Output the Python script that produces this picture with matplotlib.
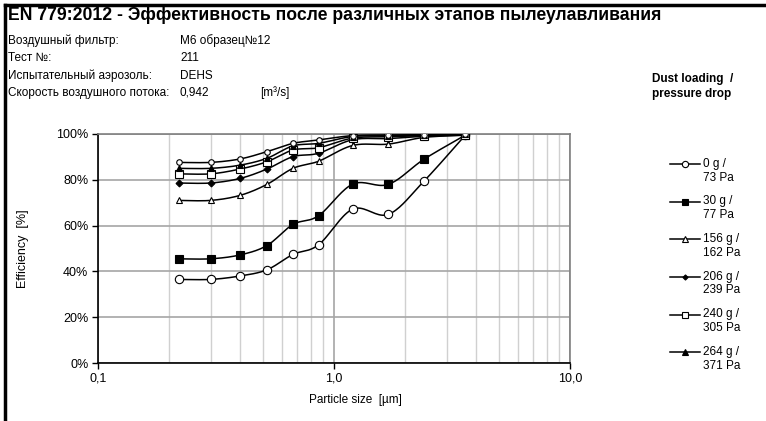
import numpy as np
import matplotlib
matplotlib.use("Agg")
import matplotlib.pyplot as plt
from matplotlib.lines import Line2D
from matplotlib.ticker import FixedLocator, FuncFormatter, NullFormatter

plt.rcParams['font.family'] = ['Liberation Sans', 'DejaVu Sans']

# particle sizes [um]
sizes = [0.22, 0.30, 0.40, 0.52, 0.67, 0.86, 1.20, 1.70, 2.40, 3.60]

# efficiency [%] per dust loading step
eff_0 = [36.5, 36.5, 38.0, 40.7, 47.4, 51.6, 67.2, 64.9, 79.3, 99.5]
eff_30 = [45.5, 45.5, 47.2, 51.3, 60.5, 64.3, 78.1, 78.0, 88.9, 99.5]
eff_156 = [71.0, 71.0, 73.2, 78.0, 85.0, 88.1, 95.0, 95.6, 98.5, 99.5]
eff_206 = [78.6, 78.6, 80.6, 84.7, 90.1, 91.6, 97.5, 98.0, 99.0, 99.5]
eff_240 = [82.6, 82.6, 84.7, 87.9, 93.0, 94.0, 98.2, 98.8, 99.3, 99.6]
eff_264 = [85.0, 85.0, 86.4, 89.4, 94.8, 95.9, 98.9, 99.2, 99.5, 99.8]
eff_last = [87.6, 87.6, 89.1, 92.3, 95.9, 97.4, 99.3, 99.6, 99.7, 99.8]

labels = ["0 g /\n73 Pa", "30 g /\n77 Pa", "156 g /\n162 Pa",
          "206 g /\n239 Pa", "240 g /\n305 Pa", "264 g /\n371 Pa", None]

info_keys = ["Воздушный фильтр:", "Тест №:", "Испытательный аэрозоль:",
             "Скорость воздушного потока:"]
info_vals = ["M6 образец№12", "211", "DEHS", "0,942"]

title = "EN 779:2012 - Эффективность после различных этапов пылеулавливания"


def smooth(x, y, n=20):
    # Excel-like smoothed line (Catmull-Rom through the points, log x)
    lx = np.log10(x)
    y = np.asarray(y, float)
    px = np.concatenate([[lx[0]], lx, [lx[-1]]])
    py = np.concatenate([[y[0]], y, [y[-1]]])
    xs, ys = [], []
    t = np.linspace(0, 1, n)
    for i in range(1, len(px) - 2):
        for P, out in ((px, xs), (py, ys)):
            p0, p1, p2, p3 = P[i - 1], P[i], P[i + 1], P[i + 2]
            out.extend(0.5 * (2 * p1 + (-p0 + p2) * t
                              + (2 * p0 - 5 * p1 + 4 * p2 - p3) * t ** 2
                              + (-p0 + 3 * p1 - 3 * p2 + p3) * t ** 3))
    return 10 ** np.array(xs), np.array(ys)


fig = plt.figure(figsize=(7.66, 4.21), dpi=100)
ax = fig.add_axes([98 / 766, 1 - 363 / 421, 472 / 766, 229 / 421])

series = [eff_0, eff_30, eff_156, eff_206, eff_240, eff_264, eff_last]
styles = [
    dict(marker='o', mfc='white', ms=6),
    dict(marker='s', mfc='black', ms=6),
    dict(marker='^', mfc='white', ms=5),
    dict(marker='D', mfc='black', ms=3.5),
    dict(marker='s', mfc='white', ms=6),
    dict(marker='^', mfc='black', ms=5),
    dict(marker='o', mfc='white', ms=4),
]

handles = []
for vals, st, lab in zip(series, styles, labels):
    sx, sy = smooth(sizes, vals)
    ax.plot(sx, sy, color='black', lw=1.1, zorder=3)
    ax.plot(sizes, vals, ls='none', marker=st['marker'], mfc=st['mfc'],
            mec='black', mew=0.8, ms=st['ms'], zorder=4)
    if lab is not None:
        handles.append(Line2D([], [], color='black', lw=1.1, marker=st['marker'],
                              mfc=st['mfc'], mec='black', mew=0.8,
                              ms=st['ms'] * 0.75, label="\n" + lab))

ax.set_xscale('log')
ax.set_xlim(0.1, 10)
ax.set_ylim(0, 100)
ax.xaxis.set_major_locator(FixedLocator([0.1, 1, 10]))
ax.xaxis.set_major_formatter(FuncFormatter(lambda v, p: f"{v:.1f}".replace('.', ',')))
ax.xaxis.set_minor_locator(FixedLocator([k * d for d in (0.1, 1) for k in range(2, 10)]))
ax.xaxis.set_minor_formatter(NullFormatter())
ax.set_yticks(range(0, 101, 20))
ax.yaxis.set_major_formatter(FuncFormatter(lambda v, p: f"{int(v)}%"))

ax.grid(axis='y', which='major', color='#a6a6a6', lw=1.2)
ax.grid(axis='x', which='major', color='#a6a6a6', lw=1.2)
ax.grid(axis='x', which='minor', color='#d0d0d0', lw=1.0)
ax.set_axisbelow(True)

for s in ('top', 'right'):
    ax.spines[s].set_color('#808080')
    ax.spines[s].set_linewidth(1.2)
for s in ('left', 'bottom'):
    ax.spines[s].set_color('black')
    ax.spines[s].set_linewidth(1.2)
ax.tick_params(which='major', length=4, width=1, labelsize=9, pad=3)
ax.tick_params(which='minor', length=0)

ax.set_xlabel("Particle size  [µm]", fontsize=8.5)
ax.xaxis.set_label_coords((355 - 98) / 472, -0.135)
ax.set_ylabel("Efficiency  [%]", fontsize=9)
ax.yaxis.set_label_coords(-(98 - 29) / 472, 0.5)

fig.legend(handles=handles, loc='upper left', bbox_to_anchor=(670 / 766, 1 - 144 / 421),
           frameon=False, fontsize=8.5, handlelength=2.5, handletextpad=0.3,
           labelspacing=-0.17, borderaxespad=0, borderpad=0)

# header block
fig.text(8 / 766, 1 - 20 / 421, title, fontsize=12.7, fontweight='bold', va='baseline')
for i, (k, v) in enumerate(zip(info_keys, info_vals)):
    yy = 1 - (44 + i * 17.3) / 421
    fig.text(8 / 766, yy, k, fontsize=8.5, va='baseline')
    fig.text(180 / 766, yy, v, fontsize=8.5, va='baseline')
fig.text(260 / 766, 1 - (44 + 3 * 17.3) / 421, "[m³/s]", fontsize=8.5, va='baseline')
fig.text(652 / 766, 1 - 97 / 421, "Dust loading  /\npressure drop", fontsize=8.5,
         fontweight='bold', va='baseline', linespacing=1.35)

# page frame
fig.add_artist(Line2D([4.5 / 766, 4.5 / 766], [0, 1 - 4.5 / 421], color='black', lw=2.5))
fig.add_artist(Line2D([4.5 / 766, 1], [1 - 4.5 / 421, 1 - 4.5 / 421], color='black', lw=2.5))

fig.savefig("out.png", dpi=100)
